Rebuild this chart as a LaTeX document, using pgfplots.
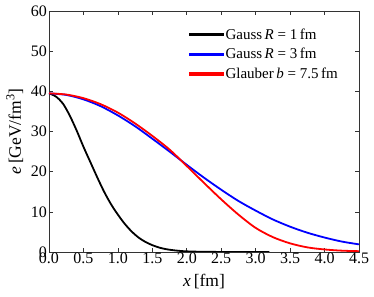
\documentclass[border=0pt]{standalone}
\usepackage{fontspec}
\setmainfont{Liberation Serif}
\usepackage{pgfplots}
\pgfplotsset{compat=1.18}
\definecolor{mblue}{RGB}{0,0,255}
\definecolor{mred}{RGB}{255,0,0}
\begin{document}
\begin{tikzpicture}
\begin{axis}[
  scale only axis,
  width=310pt, height=241pt,
  xmin=0, xmax=4.5, ymin=0, ymax=60,
  xtick={0,0.5,1,1.5,2,2.5,3,3.5,4,4.5},
  xticklabels={0.0,0.5,1.0,1.5,2.0,2.5,3.0,3.5,4.0,4.5},
  ytick={0,10,20,30,40,50,60},
  yticklabels={0,10,20,30,40,50,60},
  tick align=inside,
  xtick pos=both, ytick pos=both,
  major tick length=4pt,
  axis line style={line width=0.8pt, draw=black!80},
  every tick/.style={black!80, line width=0.6pt},
  tick label style={font=\fontsize{16}{18}\selectfont},
  xticklabel style={yshift=2.5pt},
  yticklabel style={xshift=1.5pt},
  xlabel={\textit{x}\,[fm]},
  ylabel={\textit{e}\,[GeV/fm\textsuperscript{3}]},
  label style={font=\fontsize{17.5}{19}\selectfont},
  xlabel style={yshift=-3pt},
  ylabel style={yshift=1pt},
  legend style={draw=none, fill=none, at={(rel axis cs:0.945,0.944)}, anchor=north east,
    font=\fontsize{15}{17}\selectfont, row sep=3.6pt, inner sep=2pt},
  legend cell align=left,
  legend image code/.code={\fill[#1] (0pt,-0.8pt) rectangle (33pt,0.8pt);},
]
\coordinate (sw) at (rel axis cs:0,0);
\coordinate (ne) at (rel axis cs:1,1);
\addplot[color=black, line width=1.8pt, smooth, tension=0.5] coordinates {
(0,39.5) (0.1,38.7) (0.2,37.0) (0.3,34.0) (0.4,30.3) (0.5,26.2) (0.6,22.4)
(0.7,18.6) (0.8,15.0) (0.9,11.9) (1.0,9.3) (1.1,7.0) (1.2,5.1) (1.3,3.6)
(1.4,2.5) (1.5,1.7) (1.6,1.1) (1.7,0.7) (1.8,0.45) (1.9,0.27) (2.0,0.16)
(2.2,0.06) (2.5,0.015) (2.8,0.003) (3.2,0)
};
\addlegendentry{Gauss\,\textit{R} = 1\,fm}
\addplot[color=mblue, line width=1.8pt, smooth, tension=0.5] coordinates {
(0,39.5) (0.25,39.1) (0.5,38.0) (0.75,36.3) (1.0,34.0) (1.25,31.3) (1.5,28.2)
(1.75,25.0) (2.0,21.7) (2.25,18.5) (2.5,15.5) (2.75,12.7) (3.0,10.3)
(3.25,8.1) (3.5,6.3) (3.75,4.8) (4.0,3.6) (4.25,2.6) (4.5,1.9)
};
\addlegendentry{Gauss\,\textit{R} = 3\,fm}
\addplot[color=mred, line width=1.8pt, smooth, tension=0.5] coordinates {
(0,39.5) (0.25,39.2) (0.5,38.3) (0.75,36.8) (1.0,34.7) (1.25,32.0) (1.5,28.9)
(1.75,25.5) (2.0,21.4) (2.25,17.2) (2.5,13.1) (2.75,9.3) (3.0,6.0)
(3.25,3.7) (3.5,2.15) (3.75,1.15) (4.0,0.63) (4.25,0.33) (4.5,0.2)
};
\addlegendentry{Glauber\,\textit{b} = 7.5\,fm}
\end{axis}
\pgfresetboundingbox
\path ([shift={(-49pt,-45pt)}]sw) rectangle ([shift={(15pt,11pt)}]ne);
\end{tikzpicture}
\end{document}
